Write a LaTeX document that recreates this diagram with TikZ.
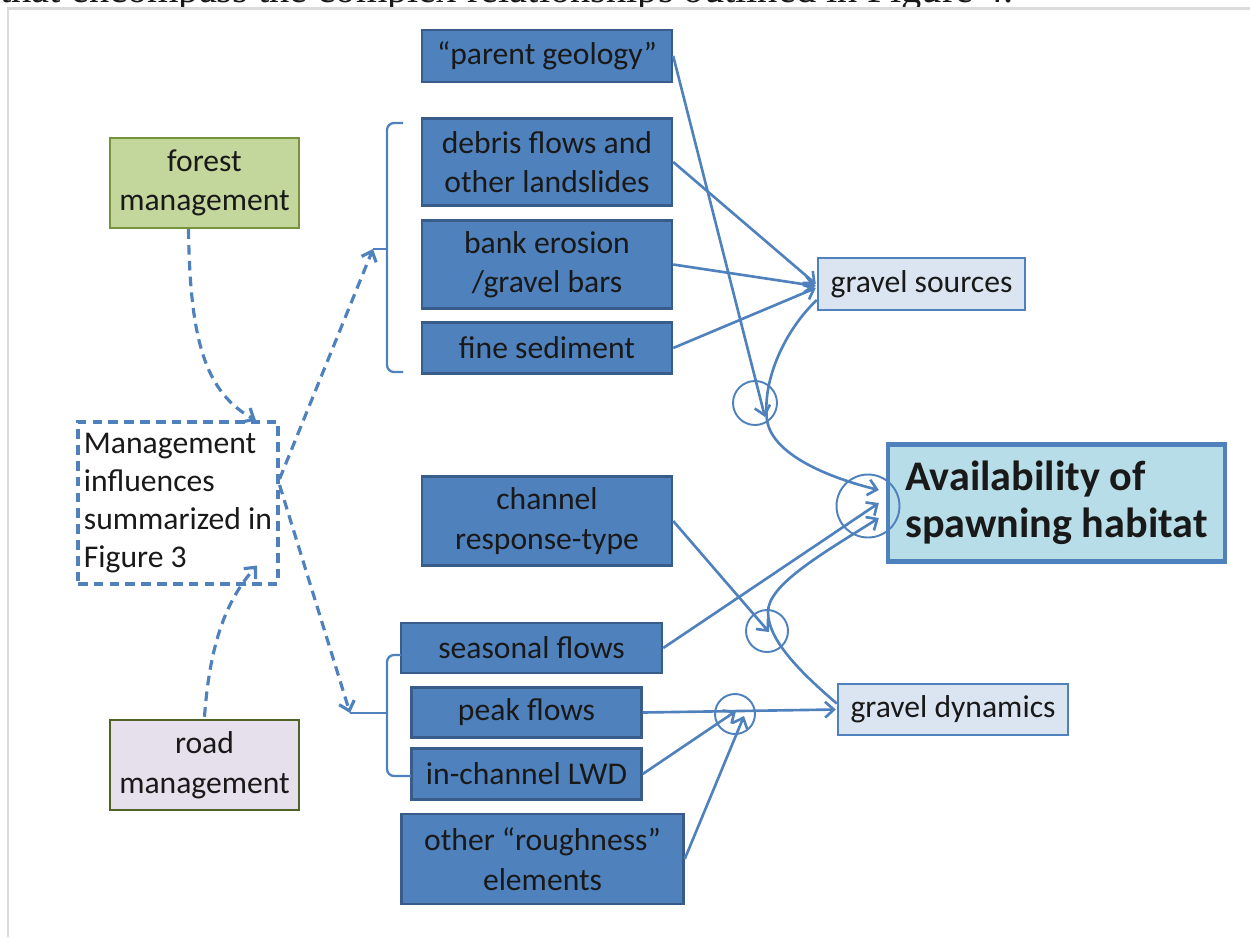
\documentclass[tikz,border=0pt]{standalone}
\usepackage{fontspec}
\setmainfont{Carlito}
\newfontfamily\bodyserif{Liberation Serif}
\usetikzlibrary{arrows.meta,calc}

\definecolor{boxfill}{HTML}{4F81BD}
\definecolor{boxedge}{HTML}{385D8A}
\definecolor{linkblue}{HTML}{4F81BD}
\definecolor{forestfill}{HTML}{C3D69B}
\definecolor{forestedge}{HTML}{77933C}
\definecolor{roadfill}{HTML}{E6E0EC}
\definecolor{roadedge}{HTML}{4F6228}
\definecolor{gravelfill}{HTML}{DBE5F1}
\definecolor{habitatfill}{HTML}{B7DEE8}

\begin{document}
\begin{tikzpicture}[x=0.02cm,y=-0.02cm,
  every node/.style={inner sep=0pt, align=center, text=black!90,
    font=\fontsize{18}{22.5}\selectfont},
  factor/.style={draw=boxedge, fill=boxfill, line width=1.4pt},
  lightbox/.style={draw=linkblue, fill=gravelfill, line width=1.4pt},
  ring/.style={circle, draw=linkblue, line width=1.1pt},
  link/.style={draw=linkblue, line width=1.5pt, -{Straight Barb[length=5pt,width=9pt]}},
  dashlink/.style={draw=linkblue, line width=1.8pt, dash pattern=on 5.5pt off 3.5pt,
    -{Straight Barb[length=5pt,width=9pt]}},
  bracket/.style={draw=linkblue, line width=1.3pt, rounded corners=4pt}
]
\useasboundingbox (0,0) rectangle (1250,937);

% running text of the page, cut by the figure frame
\begin{scope}
  \clip (0,0) rectangle (1250,8);
  \node[anchor=base west, font=\bodyserif\fontsize{23}{23}\selectfont] (pageline) at (0,2)
    {that encompass the complex relationships outlined in Figure 4.};
\end{scope}

% figure frame
\draw[black!14, line width=1.2pt] (8,937) -- (8,8.5) -- (1250,8.5);

% process boxes
\node[factor, minimum width=5cm, minimum height=1.04cm] (parent) at (547,56) {“parent geology”};
\node[factor, minimum width=5cm, minimum height=1.74cm] (debris) at (547,162) {debris flows and\\other landslides};
\node[factor, minimum width=5cm, minimum height=1.76cm] (bank) at (547,264.5) {bank erosion\\/gravel bars};
\node[factor, minimum width=5cm, minimum height=1.02cm] (fine) at (547,348) {fine sediment};
\node[factor, minimum width=5cm, minimum height=1.78cm] (channel) at (547,521) {channel\\response-type};
\node[factor, minimum width=5.22cm, minimum height=1.0cm] (seasonal) at (531.5,648) {seasonal flows};
\node[factor, minimum width=4.6cm, minimum height=1.0cm] (peak) at (526.5,712.5) {peak flows};
\node[factor, minimum width=4.6cm, minimum height=1.02cm] (lwd) at (526.5,774) {in-channel LWD};
\node[factor, minimum width=5.64cm, minimum height=1.8cm] (rough) at (542.5,859) {other “roughness”\\elements};

% management boxes
\node[draw=forestedge, fill=forestfill, line width=1.4pt, minimum width=3.78cm, minimum height=1.8cm]
  (forest) at (204.5,183) {forest\\management};
\node[draw=roadedge, fill=roadfill, line width=1.4pt, minimum width=3.78cm, minimum height=1.8cm]
  (road) at (204.5,765) {road\\management};
\node[draw=linkblue, line width=1.8pt, dash pattern=on 5.5pt off 3.5pt, minimum width=4cm,
  minimum height=3.24cm, align=left, font=\fontsize{18}{21.5}\selectfont]
  (mgmt) at (178,503) {Management\\influences\\summarized in\\Figure 3};

% outcome boxes
\node[lightbox, minimum width=4.14cm, minimum height=1.04cm] (gs) at (921.5,284) {gravel sources};
\node[lightbox, minimum width=4.6cm, minimum height=1.02cm] (gd) at (953,709.5) {gravel dynamics};
\node[draw=linkblue, fill=habitatfill, line width=2.5pt, minimum width=6.74cm, minimum height=2.34cm,
  align=left, font=\bfseries\fontsize{24}{27}\selectfont]
  (avail) at (1056.5,503) {Availability of\\spawning habitat};

% interaction rings
\node[ring, minimum size=0.88cm] (c1) at (755,403) {};
\node[ring, minimum size=0.84cm] (c2) at (767,631) {};
\node[ring, minimum size=0.80cm] (c3) at (735,714) {};
\node[ring, minimum size=1.26cm] (c4) at (868,506) {};

% brackets grouping the process boxes
\coordinate (upperTip) at (373,249);
\draw[bracket] (403,123) -- (387,123) -- (387,372) -- (403,372);
\draw[bracket] (387,249) -- (upperTip);
\coordinate (lowerTip) at (350,713);
\draw[bracket] (401,655) -- (387,655) -- (387,776) -- (411,776);
\draw[bracket] (387,713) -- (lowerTip);

% management influences
\draw[dashlink] ($(forest.south)+(-16,0)$) .. controls (190,340) and (205,392) .. ($(mgmt.north)+(78,0)$);
\draw[dashlink] ($(road.north)+(0,-2)$) .. controls (210,640) and (228,598) .. ($(mgmt.south)+(79,-20)$);
\draw[dashlink] ($(mgmt.east)+(0,-24)$) -- (upperTip);
\draw[dashlink] ($(mgmt.east)+(0,-18)$) -- (lowerTip);

% gravel sources
\draw[link] (debris.east) -- ($(gs.west)+(-1,0)$);
\draw[link] (bank.east) -- ($(gs.west)+(-1,2)$);
\draw[link] (fine.east) -- ($(gs.west)+(-1,4)$);
\draw[link] (parent.east) -- ($(c1.center)+(10,14)$);
\draw[link] ($(gs.west)+(0,16)$) .. controls (785,330) and (762,380) .. ($(c1.center)+(12,17)$)
  .. controls (772,455) and (830,478) .. ($(avail.west)+(-7,-13)$);

% gravel dynamics
\draw[link] (seasonal.east) -- ($(avail.west)+(-7,0)$);
\draw[link] (channel.east) -- ($(c2.center)+(2,1)$);
\draw[link] ($(gd.west)+(0,-6)$) .. controls (800,672) and (768,640) .. ($(c2.center)+(1,-19)$)
  .. controls (768,585) and (820,555) .. ($(avail.west)+(-7,15)$);
\draw[link] (peak.east) -- ($(gd.west)+(-1,0)$);
\draw[link] (lwd.east) -- ($(c3.center)+(1,-3)$);
\draw[link] (rough.east) -- ($(c3.center)+(9,2)$);
\end{tikzpicture}
\end{document}
